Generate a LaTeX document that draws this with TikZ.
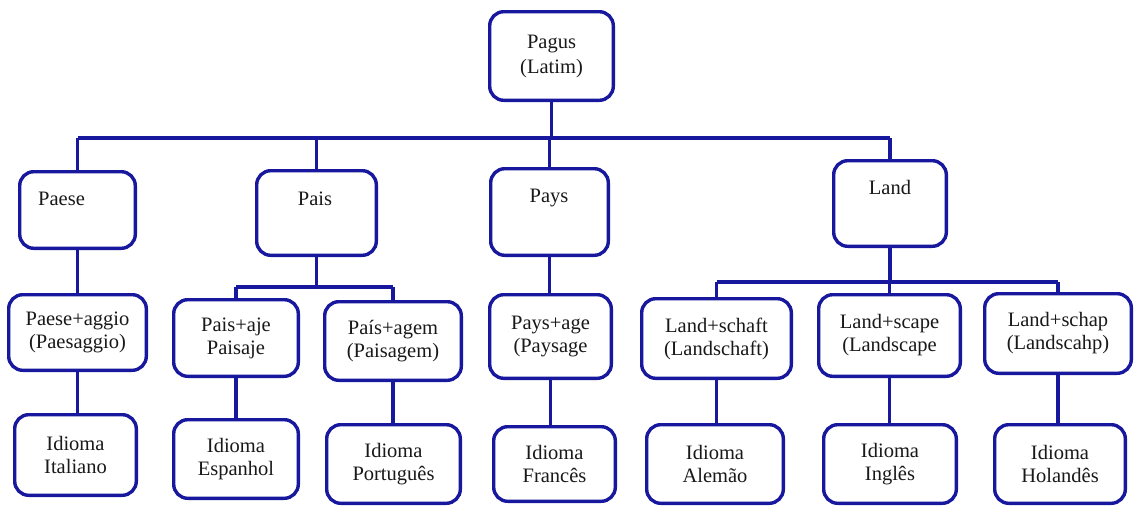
\documentclass[tikz,border=0pt]{standalone}
\usepackage{fontspec}
\setmainfont{Liberation Serif}
\usetikzlibrary{fit}
\definecolor{navy}{RGB}{24,24,158}
\tikzset{
  bx/.style={draw=navy, line width=3.4pt, rounded corners=14pt, inner sep=0pt, fill=white},
  ln/.style={draw=navy, line width=3.4pt},
  txt/.style={align=center, inner sep=0pt, text=black!90, font=\rmfamily\fontsize{20.5}{23}\selectfont},
}
\newcommand{\bx}[5]{\node[bx, fit={(#2+1.7,#3+1.7) (#4-1.7,#5-1.7)}] (#1) {};}
\begin{document}
\begin{tikzpicture}[x=1pt,y=-1pt]
\useasboundingbox[fill=white] (0,0) rectangle (1135,506);
\coordinate (h1) at (0,138);
\coordinate (h2) at (0,287);
\coordinate (h3) at (0,282);
% boxes
\bx{pagus}{488}{10}{615}{102}
\bx{paese}{18}{170}{137}{250}
\bx{pais}{255}{169}{378}{257}
\bx{pays}{489}{167}{610}{257}
\bx{land}{832}{159}{948}{248}
\bx{paesea}{7}{293}{148}{372}
\bx{paisaje}{172}{298}{300}{378}
\bx{paisagem}{323}{300}{463}{382}
\bx{paysage}{488}{293}{613}{380}
\bx{landschaft}{640}{297}{793}{380}
\bx{landscape}{817}{293}{962}{378}
\bx{landschap}{983}{292}{1133}{375}
\bx{italiano}{13}{413}{138}{497}
\bx{espanhol}{172}{418}{300}{500}
\bx{portugues}{325}{423}{462}{505}
\bx{frances}{492}{425}{617}{503}
\bx{alemao}{645}{423}{785}{505}
\bx{ingles}{822}{423}{958}{505}
\bx{holandes}{993}{423}{1127}{505}
% texts
\node[txt] (pagus-t) at (pagus.center) {Pagus\\[2pt](Latim)};
\node[txt, anchor=base west] (paese-t) at (38,205) {Paese};
\node[txt, anchor=base] (pais-t) at (315,205) {Pais};
\node[txt, anchor=base] (pays-t) at (549,202) {Pays};
\node[txt, anchor=base] (land-t) at (890,194) {Land};
\node[txt] (paesea-t) at (paesea.center) {Paese+aggio\\(Paesaggio)};
\node[txt] (paisaje-t) at (paisaje.center) {Pais+aje\\Paisaje};
\node[txt] (paisagem-t) at (paisagem.center) {País+agem\\(Paisagem)};
\node[txt] (paysage-t) at (paysage.center) {Pays+age\\(Paysage};
\node[txt] (landschaft-t) at (landschaft.center) {Land+schaft\\(Landschaft)};
\node[txt] (landscape-t) at (landscape.center) {Land+scape\\(Landscape};
\node[txt] (landschap-t) at (landschap.center) {Land+schap\\(Landscahp)};
\node[txt] (italiano-t) at (italiano.center) {Idioma\\Italiano};
\node[txt] (espanhol-t) at (espanhol.center) {Idioma\\Espanhol};
\node[txt] (portugues-t) at (portugues.center) {Idioma\\Português};
\node[txt] (frances-t) at (frances.center) {Idioma\\Francês};
\node[txt] (alemao-t) at (alemao.center) {Idioma\\Alemão};
\node[txt] (ingles-t) at (ingles.center) {Idioma\\Inglês};
\node[txt] (holandes-t) at (holandes.center) {Idioma\\Holandês};
% connectors
\draw[ln] (pagus.south) -- (pagus.south |- h1);
\draw[ln] (paese.north |- h1) -- (land.north |- h1);
\draw[ln] (paese.north |- h1) -- (paese.north);
\draw[ln] (pais.north |- h1) -- (pais.north);
\draw[ln] (pays.north |- h1) -- (pays.north);
\draw[ln] (land.north |- h1) -- (land.north);
\draw[ln] (paese.south) -- (paese.south |- paesea.north);
\draw[ln] (pais.south) -- (pais.south |- h2);
\draw[ln] (paisaje.north |- h2) -- (paisagem.north |- h2);
\draw[ln] (paisaje.north |- h2) -- (paisaje.north);
\draw[ln] (paisagem.north |- h2) -- (paisagem.north);
\draw[ln] (pays.south) -- (pays.south |- paysage.north);
\draw[ln] (land.south) -- (land.south |- h3);
\draw[ln] (landschaft.north |- h3) -- (landschap.north |- h3);
\draw[ln] (landschaft.north |- h3) -- (landschaft.north);
\draw[ln] (landscape.north |- h3) -- (landscape.north);
\draw[ln] (landschap.north |- h3) -- (landschap.north);
\draw[ln] (paesea.south) -- (paesea.south |- italiano.north);
\draw[ln] (paisaje.south) -- (paisaje.south |- espanhol.north);
\draw[ln] (paisagem.south) -- (paisagem.south |- portugues.north);
\draw[ln] (paysage.south) -- (paysage.south |- frances.north);
\draw[ln] (landschaft.south) -- (landschaft.south |- alemao.north);
\draw[ln] (landscape.south) -- (landscape.south |- ingles.north);
\draw[ln] (landschap.south) -- (landschap.south |- holandes.north);
\end{tikzpicture}
\end{document}
